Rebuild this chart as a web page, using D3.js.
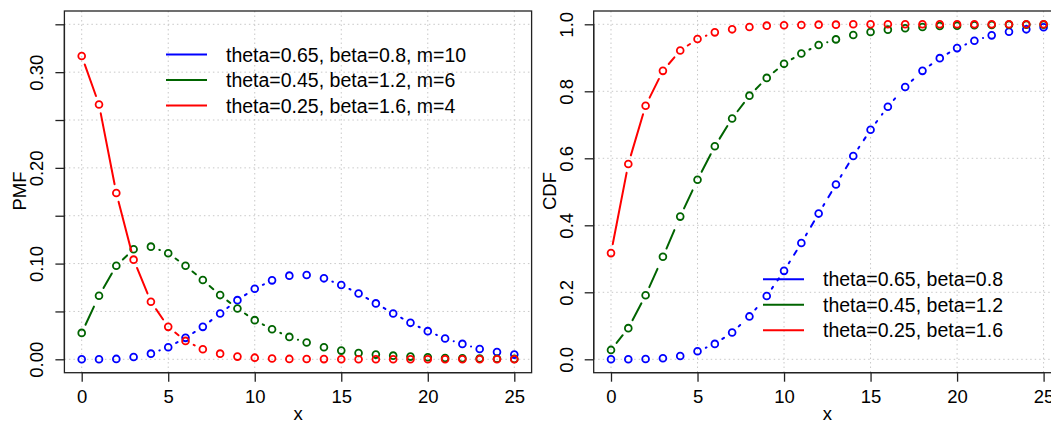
<!DOCTYPE html>
<html>
  <head>
    <script src="https://d3js.org/d3.v7.min.js"></script>
    <style>
      body { margin: 0; background-color: #fff; }
      text { font-family: 'Liberation Sans', Arial, sans-serif; fill: #000; }
    </style>
  </head>
  <body>
    <svg id="canvas" width="1051" height="423"></svg>
  </body>

  <script>
    const xs = [0, 1, 2, 3, 4, 5, 6, 7, 8, 9, 10, 11, 12, 13, 14, 15, 16, 17, 18, 19, 20, 21, 22, 23, 24, 25]

    const pmfBlue = [0.0000, 0.0001, 0.0004, 0.0024, 0.0059, 0.0126, 0.0224, 0.0339, 0.0479, 0.0618, 0.0737, 0.0825, 0.0874,
      0.0881, 0.0846, 0.0776, 0.0688, 0.0584, 0.0479, 0.0381, 0.0294, 0.0217, 0.0161, 0.0108, 0.0077, 0.0049]
    const pmfGreen = [0.0276, 0.0664, 0.0978, 0.1150, 0.1177, 0.1108, 0.0978, 0.0828, 0.0671, 0.0531, 0.0409, 0.0314, 0.0234,
      0.0175, 0.0126, 0.0091, 0.0066, 0.0049, 0.0038, 0.0028, 0.0021, 0.0014, 0.0010, 0.0008, 0.0006, 0.0004]
    const pmfRed = [0.3169, 0.2662, 0.1737, 0.1041, 0.0601, 0.0339, 0.0192, 0.0105, 0.0059, 0.0028, 0.0017, 0.0008, 0.0004,
      0.0003, 0.0002, 0.0001, 0.0001, 0, 0, 0, 0, 0, 0, 0, 0, 0]

    const cdfBlue = [0.000, 0.000, 0.001, 0.003, 0.010, 0.024, 0.046, 0.080, 0.128, 0.189, 0.264, 0.347, 0.435,
      0.522, 0.607, 0.685, 0.754, 0.813, 0.861, 0.899, 0.929, 0.951, 0.967, 0.978, 0.985, 0.991]
    const cdfGreen = [0.028, 0.093, 0.191, 0.306, 0.426, 0.536, 0.636, 0.719, 0.787, 0.840, 0.882, 0.913, 0.938,
      0.955, 0.968, 0.977, 0.984, 0.988, 0.992, 0.995, 0.996, 0.997, 0.998, 0.999, 0.999, 0.999]
    const cdfRed = [0.317, 0.583, 0.757, 0.861, 0.922, 0.956, 0.976, 0.985, 0.992, 0.996, 0.997, 0.998, 0.999,
      0.999, 1.000, 1.000, 1.000, 1.000, 1.000, 1.000, 1.000, 1.000, 1.000, 1.000, 1.000, 1.000]

    const pmfLegend = ['theta=0.65, beta=0.8, m=10', 'theta=0.45, beta=1.2, m=6', 'theta=0.25, beta=1.6, m=4']
    const cdfLegend = ['theta=0.65, beta=0.8', 'theta=0.45, beta=1.2', 'theta=0.25, beta=1.6']

    const xTicks = [0, 5, 10, 15, 20, 25]
    const pmfTicks = [0, 0.05, 0.10, 0.15, 0.20, 0.25, 0.30, 0.35]
    const pmfLabels = [0, 0.10, 0.20, 0.30]
    const cdfTicks = [0, 0.2, 0.4, 0.6, 0.8, 1.0]

    const colors = ['#0000ff', '#006400', '#ff0000']
    // R lty 3/2/1 look, restarted on every segment like type = "b"
    const dashes = ['2,8,12,8', '20,10', null]
    const gap = 9
    const tickFont = 18.5
    const legendFont = 19.5

    const svg = d3.select('#canvas')

    const drawPanel = (opts) => {
      const g = svg.append('g').attr('transform', `translate(${opts.left}, 0)`)
      const x = d3.scaleLinear().domain([0, 25]).range([81.7, 514.3])
      const y = d3.scaleLinear().domain([0, opts.ymax]).range([359.3, 24.3])
      const box = { x0: 64.4, x1: 531.6, y0: 11, y1: 372.7 }

      // grid
      g.selectAll('.vgrid').data(xTicks).enter().append('line')
        .attr('x1', d => x(d)).attr('x2', d => x(d))
        .attr('y1', box.y0).attr('y2', box.y1)
        .attr('stroke', '#c8c8c8').attr('stroke-width', 1).attr('stroke-dasharray', '1.5,3')
      g.selectAll('.hgrid').data(opts.yTicks).enter().append('line')
        .attr('x1', box.x0).attr('x2', box.x1)
        .attr('y1', d => y(d)).attr('y2', d => y(d))
        .attr('stroke', '#c8c8c8').attr('stroke-width', 1).attr('stroke-dasharray', '1.5,3')

      // series, drawn as separate gapped segments
      opts.series.forEach((vals, i) => {
        const pts = vals.map((v, j) => [x(xs[j]), y(v)])
        const segs = []
        for (let j = 0; j < pts.length - 1; j++) {
          const [ax, ay] = pts[j], [bx, by] = pts[j + 1]
          const len = Math.hypot(bx - ax, by - ay)
          if (len <= gap * 2) continue
          const ux = (bx - ax) / len, uy = (by - ay) / len
          segs.push([ax + ux * gap, ay + uy * gap, bx - ux * gap, by - uy * gap])
        }
        g.append('g').selectAll('line').data(segs).enter().append('line')
          .attr('x1', d => d[0]).attr('y1', d => d[1])
          .attr('x2', d => d[2]).attr('y2', d => d[3])
          .attr('stroke', colors[i]).attr('stroke-width', 2)
          .attr('stroke-linecap', 'round')
          .attr('stroke-dasharray', dashes[i])
        g.append('g').selectAll('circle').data(pts).enter().append('circle')
          .attr('cx', d => d[0]).attr('cy', d => d[1]).attr('r', 3.4)
          .attr('fill', 'none').attr('stroke', colors[i]).attr('stroke-width', 1.8)
      })

      // box
      g.append('rect')
        .attr('x', box.x0).attr('y', box.y0)
        .attr('width', box.x1 - box.x0).attr('height', box.y1 - box.y0)
        .attr('fill', 'none').attr('stroke', '#222').attr('stroke-width', 1.3)

      // x axis
      const xAxis = g.append('g').attr('transform', `translate(0, ${box.y1})`)
        .call(d3.axisBottom(x).tickValues(xTicks).tickSize(9).tickPadding(8))
      xAxis.select('.domain').attr('d', `M${x(0)},0H${x(25)}`).attr('stroke', '#222').attr('stroke-width', 1.3)
      xAxis.selectAll('.tick line').attr('stroke', '#222').attr('stroke-width', 1.3)
      xAxis.selectAll('.tick text').attr('font-size', tickFont).attr('font-family', null).attr('fill', '#000')

      // y axis, labels turned like R's las = 0
      const yAxis = g.append('g').attr('transform', `translate(${box.x0}, 0)`)
        .call(d3.axisLeft(y).tickValues(opts.yTicks).tickSize(9)
          .tickFormat(d => opts.yLabels.some(l => Math.abs(l - d) < 1e-9) ? d3.format(opts.yFormat)(d) : ''))
      yAxis.select('.domain').attr('d', `M0,${y(0)}V${y(opts.ymax)}`).attr('stroke', '#222').attr('stroke-width', 1.3)
      yAxis.selectAll('.tick line').attr('stroke', '#222').attr('stroke-width', 1.3)
      yAxis.selectAll('.tick text')
        .attr('font-size', tickFont).attr('font-family', null).attr('fill', '#000')
        .attr('x', null).attr('dy', null)
        .attr('text-anchor', 'middle')
        .attr('transform', 'translate(-27.7, 0) rotate(-90)')
        .attr('dominant-baseline', 'central')

      // axis titles
      g.append('text').attr('x', (box.x0 + box.x1) / 2).attr('y', 420)
        .attr('text-anchor', 'middle').attr('font-size', tickFont).text('x')
      g.append('text').attr('transform', `translate(${opts.titleX}, 191) rotate(-90)`)
        .attr('text-anchor', 'middle').attr('dominant-baseline', 'central')
        .attr('font-size', tickFont).text(opts.title)

      // legend
      const lg = g.append('g')
      opts.legend.forEach((label, i) => {
        const ly = opts.legendY + i * 25.5
        lg.append('line').attr('x1', opts.legendX).attr('x2', opts.legendX + 41)
          .attr('y1', ly).attr('y2', ly)
          .attr('stroke', colors[i]).attr('stroke-width', 2)
        lg.append('text').attr('x', opts.legendX + 60).attr('y', ly)
          .attr('dominant-baseline', 'central')
          .attr('font-size', legendFont).text(label)
      })
    }

    drawPanel({
      left: 0, ymax: 0.35, yTicks: pmfTicks, yLabels: pmfLabels, yFormat: '.2f',
      series: [pmfBlue, pmfGreen, pmfRed], title: 'PMF', titleX: 19,
      legend: pmfLegend, legendX: 166, legendY: 54.5
    })

    drawPanel({
      left: 529.3, ymax: 1, yTicks: cdfTicks, yLabels: cdfTicks, yFormat: '.1f',
      series: [cdfBlue, cdfGreen, cdfRed], title: 'CDF', titleX: 19.7,
      legend: cdfLegend, legendX: 233.7, legendY: 279.3
    })
  </script>
</html>
